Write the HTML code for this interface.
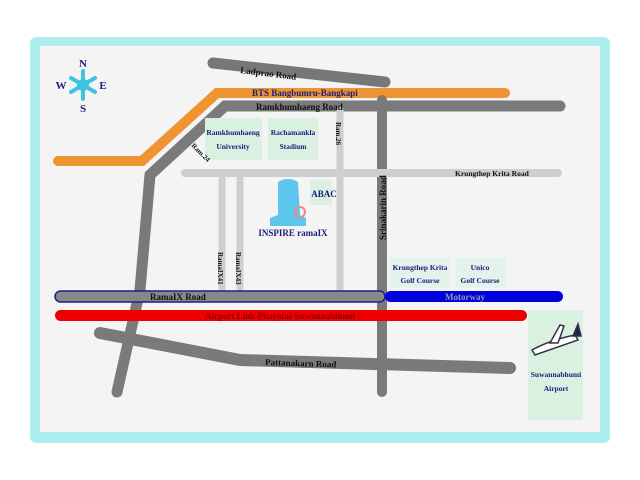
<!DOCTYPE html>
<html><head><meta charset="utf-8"><style>
body{margin:0;background:#fff;width:640px;height:480px;overflow:hidden}
svg{display:block}
text{font-family:"Liberation Serif",serif;font-weight:bold}
</style></head><body>
<svg width="640" height="480" viewBox="0 0 640 480">
<rect x="30" y="37" width="580" height="406" rx="6" fill="#aeeeee"/>
<rect x="40" y="46" width="560" height="386" fill="#f4f4f4"/>
<g stroke-linecap="round" fill="none">
<path d="M213,63 L385,82" stroke="#777" stroke-width="11"/>
<path d="M58,161 L142,161 L217,93 L505,93" stroke="#ee9433" stroke-width="10"/>
<path d="M560,106 L225,106 L150,175 L140,290 L117,392" stroke="#7a7a7a" stroke-width="11"/>
<path d="M382,100 L382,392" stroke="#7a7a7a" stroke-width="10"/>
<path d="M100,333 L240,360 L510,368" stroke="#7a7a7a" stroke-width="12"/>
<path d="M185,173 L558,173" stroke="#cfcfcf" stroke-width="8"/>
<path d="M340,110 L340,290 M222,173 L222,290 M240,173 L240,290" stroke="#cfcfcf" stroke-width="7"/>
</g>
<rect x="205" y="118" width="57" height="42" fill="#daf0e0"/>
<rect x="268" y="118" width="50" height="42" fill="#daf0e0"/>
<rect x="310" y="180" width="22" height="25" fill="#daf0e0"/>
<rect x="390" y="258" width="60" height="30" fill="#e3f2ea"/>
<rect x="456" y="258" width="50" height="30" fill="#e3f2ea"/>
<rect x="528" y="310" width="55" height="110" fill="#daf0e0"/>
<rect x="55" y="291" width="330" height="11" rx="5.5" fill="#888" stroke="#1d1d8c" stroke-width="1.5"/>
<rect x="385" y="291" width="178" height="11" rx="5.5" fill="#0000dd"/>
<rect x="55" y="310" width="472" height="11" rx="5.5" fill="#ee0000"/>
<path d="M278,182 Q288,176 298,182 L300,215 L306,218 L306,226 L270,226 L270,218 L278,215 Z" fill="#5cc6ec"/>
<circle cx="300" cy="212" r="5" fill="none" stroke="#e88" stroke-width="2"/>
<g fill="#111" font-size="9">
<text x="240" y="73" transform="rotate(7 240 73)">Ladprao Road</text>
<text x="252" y="96" fill="#1c1c7c">BTS Bangbumru-Bangkapi</text>
<text x="256" y="110">Ramkhumhaeng Road</text>
<text x="455" y="176" font-size="7.5">Krungthep Krita Road</text>
<text x="265" y="365" transform="rotate(2 265 365)">Pattanakarn Road</text>
<text x="150" y="300">RamaIX Road</text>
<text x="445" y="300" fill="#99a" font-weight="normal">Motorway</text>
<text x="205" y="319" fill="#880000">Airport Link Phayatai-Suwannabhumi</text>
<text x="386" y="240" transform="rotate(-90 386 240)">Srinakarin Road</text>
<text x="191" y="146" font-size="7" transform="rotate(45 191 146)">Ram.24</text>
<text x="336" y="122" font-size="7" transform="rotate(90 336 122)">Ram.26</text>
<text x="218" y="252" font-size="7" transform="rotate(90 218 252)">RamaIX41</text>
<text x="236" y="252" font-size="7" transform="rotate(90 236 252)">RamaIX43</text>
</g>
<g fill="#1c1c7c" font-size="7.5" text-anchor="middle">
<text x="233" y="135">Ramkhumhaeng</text><text x="233" y="149">University</text>
<text x="293" y="135">Rachamankla</text><text x="293" y="149">Stadium</text>
<text x="420" y="270">Krungthep Krita</text><text x="420" y="283">Golf Course</text>
<text x="480" y="270">Unico</text><text x="480" y="283">Golf Course</text>
<text x="556" y="377">Suwannabhumi</text><text x="556" y="391">Airport</text>
<text x="324" y="197" font-size="9">ABAC</text>
<text x="293" y="236" font-size="9">INSPIRE ramaIX</text>
<text x="83" y="67" font-size="11">N</text><text x="83" y="112" font-size="11">S</text>
<text x="61" y="89" font-size="11">W</text><text x="103" y="89" font-size="11">E</text>
</g>
<g stroke="#3cc4e0" stroke-width="4" stroke-linecap="round">
<path d="M83,71 L83,99 M71,78 L95,92 M71,92 L95,78"/>
</g>
<circle cx="83" cy="85" r="6" fill="#3cc4e0"/>
<g stroke="#334" stroke-width="1.5" fill="#fff">
<path d="M532,350 Q550,340 575,335 L578,340 Q555,348 535,355 Z"/>
<path d="M550,343 L560,325 L564,326 L558,343 Z"/>
<path d="M573,336 L578,324 L581,336 Z" fill="#224"/>
</g>
</svg>
</body></html>
